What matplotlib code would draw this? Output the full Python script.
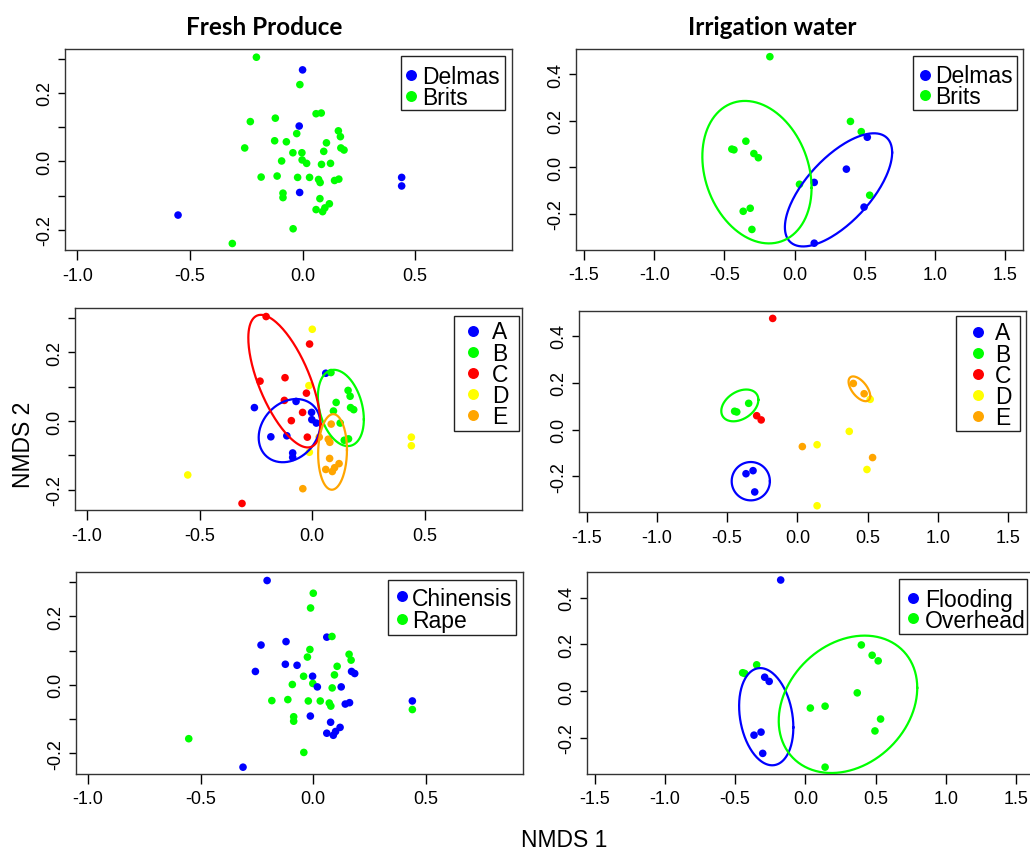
import numpy as np
import matplotlib
matplotlib.use("Agg")
import matplotlib.pyplot as plt
from matplotlib.patches import Rectangle
from matplotlib.lines import Line2D

plt.rcParams["font.family"] = ["Liberation Sans", "DejaVu Sans"]
plt.rcParams["axes.unicode_minus"] = False

# ---------------------------
# Data: fresh produce NMDS scores
# ---------------------------
fresh_x = [0.000, -0.015, -0.013, -0.553, 0.440, 0.440,
           -0.205, -0.012, -0.232, -0.121, 0.060, 0.083, -0.026, -0.257, -0.124, -0.072,
           -0.043, -0.003, -0.093, -0.002, 0.018, 0.106, 0.094, 0.159, 0.168, 0.170,
           0.184, 0.084, 0.124, -0.184, -0.113, -0.022, 0.031, 0.071, 0.078, 0.142,
           0.161, -0.087, -0.087, 0.077, 0.119, 0.060, 0.089, 0.099, -0.042, -0.312]
fresh_y = [0.267, 0.103, -0.091, -0.157, -0.047, -0.072,
           0.304, 0.224, 0.116, 0.126, 0.139, 0.141, 0.081, 0.039, 0.060, 0.057,
           0.025, 0.025, 0.001, 0.004, -0.006, 0.054, 0.029, 0.089, 0.072, 0.039,
           0.033, -0.009, -0.006, -0.046, -0.043, -0.047, -0.047, -0.053, -0.062, -0.056,
           -0.052, -0.093, -0.106, -0.109, -0.124, -0.141, -0.147, -0.136, -0.197, -0.240]
fresh_site = ["Delmas"] * 6 + ["Brits"] * 40
fresh_group = ["D", "D", "D", "D", "D", "D",
               "C", "C", "C", "C", "A", "B", "C", "A", "C", "A",
               "C", "A", "C", "A", "A", "B", "B", "B", "B", "B",
               "B", "E", "B", "A", "A", "C", "E", "E", "E", "B",
               "B", "A", "A", "E", "E", "E", "E", "E", "E", "C"]
fresh_crop = ["Rape", "Rape", "Chinensis", "Rape", "Chinensis", "Rape",
              "Chinensis", "Rape", "Chinensis", "Chinensis", "Chinensis", "Rape", "Rape",
              "Chinensis", "Chinensis", "Chinensis", "Rape", "Chinensis", "Rape", "Rape",
              "Chinensis", "Rape", "Rape", "Rape", "Rape", "Chinensis", "Chinensis", "Rape",
              "Chinensis", "Rape", "Rape", "Rape", "Rape", "Rape", "Rape", "Chinensis",
              "Chinensis", "Rape", "Rape", "Chinensis", "Chinensis", "Chinensis",
              "Chinensis", "Chinensis", "Rape", "Chinensis"]

# ---------------------------
# Data: irrigation water NMDS scores
# ---------------------------
irr_x = [-0.176, -0.347, -0.447, -0.432, -0.290, -0.258, -0.366, -0.316, -0.304,
         0.398, 0.475, 0.035, 0.535, 0.518, 0.369, 0.140, 0.495, 0.140]
irr_y = [0.475, 0.112, 0.078, 0.075, 0.059, 0.041, -0.189, -0.176, -0.267,
         0.197, 0.153, -0.073, -0.120, 0.129, -0.008, -0.065, -0.171, -0.326]
irr_site = ["Brits"] * 13 + ["Delmas"] * 5
irr_group = ["C", "B", "B", "B", "C", "C", "A", "A", "A",
             "E", "E", "E", "E", "D", "D", "D", "D", "D"]
irr_method = ["Flooding", "Overhead", "Overhead", "Overhead", "Flooding", "Flooding",
              "Flooding", "Flooding", "Flooding", "Overhead", "Overhead", "Overhead",
              "Overhead", "Overhead", "Overhead", "Overhead", "Overhead", "Overhead"]

# ellipses: group -> (centre x, centre y, half width, half height, correlation)
ell_fresh_group = {"A": (-0.101, -0.028, 0.137, 0.092, 0.22),
                   "B": (0.127, 0.038, 0.102, 0.111, -0.30),
                   "C": (-0.124, 0.116, 0.160, 0.193, -0.65),
                   "E": (0.090, -0.090, 0.064, 0.110, 0.05)}
ell_irr_site = {"Delmas": (0.313, -0.097, 0.382, 0.243, 0.66),
                "Brits": (-0.268, -0.021, 0.389, 0.306, -0.22)}
ell_irr_group = {"A": (-0.332, -0.221, 0.136, 0.082, 0.0),
                 "B": (-0.410, 0.103, 0.132, 0.068, 0.35),
                 "E": (0.441, 0.174, 0.077, 0.053, -0.58)}
ell_irr_method = {"Flooding": (-0.279, -0.110, 0.193, 0.208, -0.22),
                  "Overhead": (0.303, -0.057, 0.493, 0.294, 0.24)}

site_levels = ["Delmas", "Brits"]
group_levels = ["A", "B", "C", "D", "E"]
crop_levels = ["Chinensis", "Rape"]
method_levels = ["Flooding", "Overhead"]

two_cols = ["#0000FF", "#00FF00"]
five_cols = ["#0000FF", "#00FF00", "#FF0000", "#FFFF00", "#FFA500"]

# ---------------------------
# Layout (pixels, top-left origin)
# ---------------------------
W, H = 1030, 853
fig = plt.figure(figsize=(W / 100, H / 100), dpi=100)


def px_axes(l, t, r, b):
    return fig.add_axes([l / W, 1 - b / H, (r - l) / W, (b - t) / H])


def style_axes(ax, fresh):
    if fresh:
        ax.set_xlim(-1.055, 0.93)
        ax.set_ylim(-0.259, 0.328)
        ax.set_xticks([-1.0, -0.5, 0.0, 0.5], ["-1.0", "-0.5", "0.0", "0.5"])
        ax.set_yticks([-0.2, -0.1, 0.0, 0.1, 0.2, 0.3], ["-0.2", "", "0.0", "", "0.2", ""])
    else:
        ax.set_xlim(-1.557, 1.625)
        ax.set_ylim(-0.354, 0.508)
        ax.set_xticks([-1.5, -1.0, -0.5, 0.0, 0.5, 1.0, 1.5],
                      ["-1.5", "-1.0", "-0.5", "0.0", "0.5", "1.0", "1.5"])
        ax.set_yticks([-0.2, 0.0, 0.2, 0.4], ["-0.2", "0.0", "0.2", "0.4"])
    ax.tick_params(axis="x", length=7.5, width=1, labelsize=13, pad=4.5)
    ax.tick_params(axis="y", length=4.8, width=1, labelsize=13, pad=3.5)
    plt.setp(ax.get_yticklabels(), rotation=90, va="center")
    for sp in ax.spines.values():
        sp.set_linewidth(1.0)
        sp.set_color("#333333")


def scatter_by(ax, xs, ys, labels, levels, cols):
    colmap = dict(zip(levels, cols))
    ax.scatter(xs, ys, s=30, c=[colmap[l] for l in labels], linewidths=0, zorder=2)


def draw_ellipses(ax, ells, levels, cols):
    colmap = dict(zip(levels, cols))
    t = np.linspace(0, 2 * np.pi, 200)
    for name, (cx, cy, sx, sy, r) in ells.items():
        ex = cx + sx * np.cos(t)
        ey = cy + sy * (r * np.cos(t) + np.sqrt(1 - r ** 2) * np.sin(t))
        ax.plot(ex, ey, color=colmap[name], lw=1.6, zorder=3)


def draw_legend(box, labels, cols, mx, tx, first_row, step):
    # R-style legend box: white box, filled dots, one text block
    x0, y0, x1, y1 = box
    fig.patches.append(Rectangle((x0 / W, 1 - y1 / H), (x1 - x0) / W, (y1 - y0) / H,
                                 transform=fig.transFigure, facecolor="white",
                                 edgecolor="#222222", lw=1.0, zorder=5))
    for i, col in enumerate(cols):
        ry = first_row + step * i
        fig.add_artist(Line2D([mx / W], [1 - ry / H], marker="o", ms=7.9, mew=0,
                              color=col, transform=fig.transFigure, zorder=6))
    # baseline of a multi-line text block sits on its last line
    last_base = first_row + step * (len(labels) - 1) + 8.2
    fig.text(tx / W, 1 - last_base / H, "\n".join(labels), fontsize=16.5,
             va="baseline", ha="left", linespacing=step / 23.3, zorder=7)


# ---------------------------
# Panels
# ---------------------------
ax1 = px_axes(65, 50, 512, 251)
style_axes(ax1, True)
scatter_by(ax1, fresh_x, fresh_y, fresh_site, site_levels, two_cols)
draw_legend((401, 56.7, 505, 110.7), site_levels, two_cols, 411, 421.7, 75.7, 21.0)

ax2 = px_axes(576, 50, 1022.7, 250.7)
style_axes(ax2, False)
scatter_by(ax2, irr_x, irr_y, irr_site, site_levels, two_cols)
draw_ellipses(ax2, ell_irr_site, site_levels, two_cols)
draw_legend((913.3, 56.7, 1017.3, 110.7), site_levels, two_cols, 925, 935, 75.5, 20.7)

ax3 = px_axes(74.7, 309.3, 521.7, 511)
style_axes(ax3, True)
scatter_by(ax3, fresh_x, fresh_y, fresh_group, group_levels, five_cols)
draw_ellipses(ax3, ell_fresh_group, group_levels, five_cols)
draw_legend((454, 317.3, 519.3, 431.7), group_levels, five_cols, 472.7, 492.3, 332.3, 20.85)

ax4 = px_axes(578.7, 311.7, 1025.7, 513.3)
style_axes(ax4, False)
scatter_by(ax4, irr_x, irr_y, irr_group, group_levels, five_cols)
draw_ellipses(ax4, ell_irr_group, group_levels, five_cols)
draw_legend((956, 317.3, 1020, 431.7), group_levels, five_cols, 977.7, 995, 333.3, 20.85)

ax5 = px_axes(75.7, 573.3, 522.7, 774.7)
style_axes(ax5, True)
scatter_by(ax5, fresh_x, fresh_y, fresh_crop, crop_levels, two_cols)
draw_legend((388.3, 580.7, 516, 635.7), crop_levels, two_cols, 402.3, 411.7, 597.3, 22.7)

ax6 = px_axes(586.7, 573.3, 1033.7, 774.7)
style_axes(ax6, False)
scatter_by(ax6, irr_x, irr_y, irr_method, method_levels, two_cols)
draw_ellipses(ax6, ell_irr_method, method_levels, two_cols)
draw_legend((899.3, 580, 1026.7, 635), method_levels, two_cols, 912.7, 925, 598.7, 20.6)

# ---------------------------
# Titles and axis labels
# ---------------------------
fig.text(264.3 / W, 1 - 35.3 / H, "Fresh Produce", family=["Lato", "DejaVu Sans"],
         fontweight="bold", fontsize=17.5, ha="center", va="baseline")
fig.text(772.5 / W, 1 - 35.3 / H, "Irrigation water", family=["Lato", "DejaVu Sans"],
         fontweight="bold", fontsize=17.5, ha="center", va="baseline")
fig.text(563.7 / W, 1 - 847.5 / H, "NMDS 1", fontsize=16.5, ha="center", va="baseline")
fig.text(30 / W, 1 - 445 / H, "NMDS 2", fontsize=16.5, ha="center", va="baseline",
         rotation=90, rotation_mode="anchor")

fig.savefig("out.png", dpi=100)
